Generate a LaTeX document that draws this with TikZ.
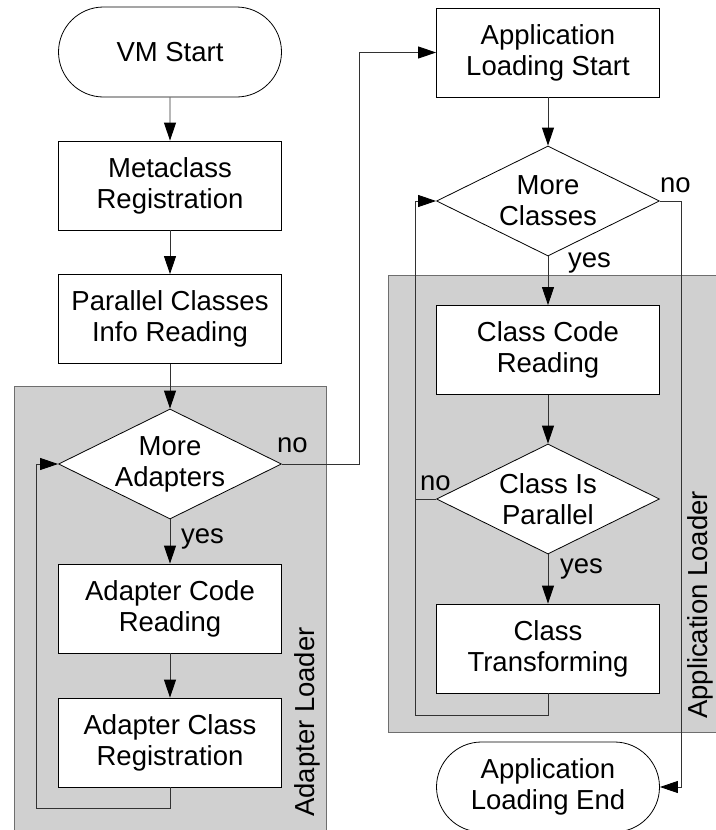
\documentclass[tikz,border=0pt]{standalone}
\usepackage{fontspec}
\setmainfont{Liberation Sans}
\usetikzlibrary{shapes.geometric,shapes.misc,arrows.meta}
\definecolor{panel}{RGB}{208,208,208}
\definecolor{panelborder}{RGB}{110,110,110}
\definecolor{wire}{RGB}{50,50,50}
\tikzset{
  base/.style={draw=black, line width=0.8pt, fill=white, align=center, inner sep=0pt,
    font=\fontsize{27.5}{31}\selectfont},
  stadium/.style={base, rounded rectangle, minimum width=223pt, minimum height=90pt},
  procbox/.style={base, rectangle, minimum width=223pt, minimum height=89pt},
  decision/.style={base, diamond, minimum width=223pt, minimum height=110pt},
  dtext/.style={align=center, inner sep=0pt, font=\fontsize{27.5}{31}\selectfont},
  lbl/.style={inner sep=0pt, anchor=base west, font=\fontsize{27.5}{31}\selectfont},
  vlbl/.style={inner sep=0pt, rotate=90, font=\fontsize{27.5}{31}\selectfont},
  wire/.style={draw=wire, line width=0.9pt},
  arr/.style={wire, -{Triangle[length=18pt,width=12pt,color=black]}},
  panelbox/.style={fill=panel, draw=panelborder, line width=0.9pt}
}
\begin{document}
\begin{tikzpicture}[x=1pt,y=-1pt]
\useasboundingbox (0,0) rectangle (715,830);
% grey panels
\path[panelbox] (14,386) rectangle (326,845);
\path[panelbox] (388,275) rectangle (725,732);
\node[vlbl] (adl) at (307,722) {Adapter Loader};
\node[vlbl] (apl) at (700,605) {Application Loader};
% left column
\node[stadium] (vm) at (170,52) {VM Start};
\node[procbox] (meta) at (170,185.5) {Metaclass\\Registration};
\node[procbox] (pci) at (170,319) {Parallel Classes\\Info Reading};
\node[decision] (d1) at (170,464) {};
\node[dtext] at (d1.center) {More\\Adapters};
\node[procbox] (acr) at (170,608.5) {Adapter Code\\Reading};
\node[procbox] (acreg) at (170,742.5) {Adapter Class\\Registration};
% right column
\node[procbox] (als) at (548,52.5) {Application\\Loading Start};
\node[decision] (d2) at (548,201) {};
\node[dtext] at (d2.center) {More\\Classes};
\node[procbox] (ccr) at (548,350) {Class Code\\Reading};
\node[decision] (d3) at (548,499) {};
\node[dtext] at (d3.center) {Class Is\\Parallel};
\node[procbox] (ct) at (548,648.5) {Class\\Transforming};
\node[stadium] (ale) at (548,787) {Application\\Loading End};
% coordinates
\coordinate (l1) at (170,808);
\coordinate (l2) at (36,808);
\coordinate (l3) at (36,464);
\coordinate (n1) at (359,464);
\coordinate (n2) at (359,52.5);
\coordinate (m1) at (681,201);
\coordinate (m2) at (681,787);
\coordinate (r1) at (548,715);
\coordinate (r2) at (415,715);
\coordinate (r3) at (415,201);
\coordinate (p1) at (415,499);
% connectors
\draw[arr] (vm) -- (meta);
\draw[arr] (meta) -- (pci);
\draw[arr] (pci) -- (d1);
\draw[arr] (d1) -- (acr);
\draw[arr] (acr) -- (acreg);
\draw[arr] (acreg.south) -- (l1) -- (l2) -- (l3) -- (d1.west);
\draw[arr] (d1.east) -- (n1) -- (n2) -- (als.west);
\draw[arr] (als) -- (d2);
\draw[arr] (d2) -- (ccr);
\draw[arr] (d2.east) -- (m1) -- (m2) -- (ale.east);
\draw[arr] (ccr) -- (d3);
\draw[arr] (d3) -- (ct);
\draw[arr] (ct.south) -- (r1) -- (r2) -- (r3) -- (d2.west);
\draw[wire] (d3.west) -- (p1);
% branch labels
\node[lbl] (no1) at (277,452) {no};
\node[lbl] (yes1) at (181,543) {yes};
\node[lbl] (no2) at (660,192) {no};
\node[lbl] (yes2) at (568,267) {yes};
\node[lbl] (no3) at (420,490) {no};
\node[lbl] (yes3) at (560,573) {yes};
\end{tikzpicture}
\end{document}
